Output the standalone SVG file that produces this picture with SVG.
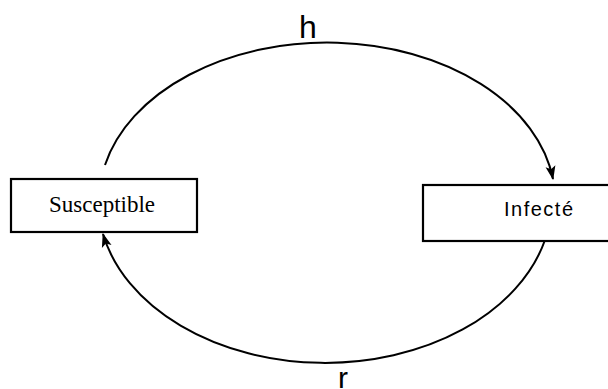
<svg xmlns="http://www.w3.org/2000/svg" width="608" height="389" viewBox="0 0 608 389">
<style>
.box{fill:#fff;stroke:#000;stroke-width:2.2}
.conn{fill:none;stroke:#000;stroke-width:2}
.lbl{font-family:"Liberation Sans",Arial,sans-serif;fill:#000}
</style>
<defs>
<marker id="arr" viewBox="0 0 14 12" refX="13" refY="6" markerWidth="14" markerHeight="12" markerUnits="userSpaceOnUse" orient="auto">
<path d="M0,1 L14,6 L0,11 L3,6 Z" fill="#000"/>
</marker>
</defs>
<rect width="608" height="389" fill="#fff"/>
<g id="connectors">
<path class="conn" d="M105,165 A228,158 0 0 1 553,179" marker-end="url(#arr)"/>
<path class="conn" d="M545,240 A227,163 0 0 1 103,234" marker-end="url(#arr)"/>
<text class="lbl" x="308" y="38" font-size="32" text-anchor="middle">h</text>
<text class="lbl" x="343" y="388" font-size="30" text-anchor="middle">r</text>
</g>
<g id="susceptible">
<rect class="box" x="11" y="179" width="186" height="53"/>
<text x="102" y="212" font-family="'Liberation Serif','Times New Roman',serif" font-size="23" text-anchor="middle">Susceptible</text>
</g>
<g id="infecte">
<rect class="box" x="423" y="185" width="190" height="56"/>
<text class="lbl" x="504" y="216" font-size="20" textLength="69" lengthAdjust="spacing">Infecté</text>
</g>
</svg>
